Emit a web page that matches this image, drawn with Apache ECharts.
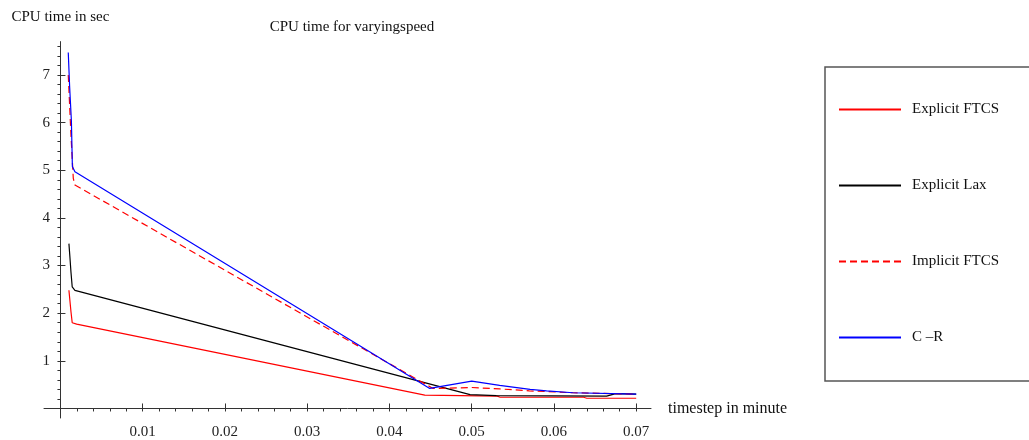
<!DOCTYPE html>
<html>
<head>
<meta charset="utf-8">
<script src="https://cdn.jsdelivr.net/npm/echarts@6/dist/echarts.min.js"></script>
<style>
  html, body { margin: 0; padding: 0; background: #fff; }
  #chart { width: 1029px; height: 440px; }
</style>
</head>
<body>
<div id="chart"></div>
<script>
// values (x = timestep in minute, y = CPU time in sec)
const ftcsX = [0.00103, 0.00128, 0.00143, 0.00197, 0.0443, 0.0531, 0.0534, 0.0636, 0.0640, 0.0700];
const ftcsY = [2.48, 2.03, 1.80, 1.77, 0.28, 0.26, 0.24, 0.235, 0.215, 0.215];

const laxX = [0.00103, 0.00115, 0.00128, 0.00143, 0.00176, 0.0498, 0.0530, 0.0664, 0.0675, 0.0700];
const laxY = [3.46, 3.18, 2.86, 2.55, 2.48, 0.29, 0.27, 0.26, 0.31, 0.30];

const implicitX = [0.00095, 0.00128, 0.00156, 0.00176, 0.0453, 0.0500, 0.0534, 0.0570, 0.0623, 0.0700];
const implicitY = [7.00, 5.73, 4.83, 4.69, 0.42, 0.44, 0.41, 0.37, 0.33, 0.30];

const crX = [0.00095, 0.00112, 0.00131, 0.00133, 0.00143, 0.00145, 0.00156, 0.00176, 0.0449, 0.0500, 0.0534, 0.0571, 0.0591, 0.0623, 0.0700];
const crY = [7.47, 6.74, 6.72, 6.04, 6.02, 5.08, 5.06, 4.97, 0.42, 0.575, 0.485, 0.40, 0.37, 0.33, 0.30];

const xMajorTicks = [0.01, 0.02, 0.03, 0.04, 0.05, 0.06, 0.07];
const yMajorTicks = [1, 2, 3, 4, 5, 6, 7];

// minor tick marks every 0.002 min / 0.2 sec
let xMinorTicks = [];
for (let i = 1; i <= 35; i++) xMinorTicks.push(+(i * 0.002).toFixed(4));
let yMinorTicks = [];
for (let i = 1; i <= 38; i++) yMinorTicks.push(+(i * 0.2).toFixed(2));

const serif = "Liberation Serif";

function pairs(xs, ys) {
    return xs.map((x, i) => [x, ys[i]]);
}

let chart = echarts.init(document.getElementById("chart"));

let baseX = {
    type: "value",
    min: -0.002,
    max: 0.0718,
    splitLine: { show: false },
    axisLine: { onZero: true, onZeroAxisIndex: 0, lineStyle: { color: "#333", width: 1 } }
};
let baseY = {
    type: "value",
    min: -0.2,
    max: 7.7,
    splitLine: { show: false },
    axisLine: { onZero: true, onZeroAxisIndex: 0, lineStyle: { color: "#333", width: 1 } }
};

chart.setOption({
    animation: false,
    backgroundColor: "#fff",
    title: {
        text: "CPU time for varyingspeed",
        left: 347,
        top: 15,
        textAlign: "center",
        textStyle: { fontFamily: serif, fontSize: 15, fontWeight: "normal", color: "#111" }
    },
    grid: { left: 44, right: 378, top: 41.6, bottom: 17.7, containLabel: false },
    legend: {
        orient: "vertical",
        left: 825,
        top: 67,
        padding: [35, 60, 36, 13],
        itemWidth: 62,
        itemHeight: 15,
        itemGap: 61,
        borderColor: "#555",
        borderWidth: 1.5,
        itemStyle: { color: "transparent", borderColor: "transparent", borderWidth: 0, opacity: 0 },
        textStyle: { fontFamily: serif, fontSize: 15, color: "#111", padding: [0, 0, 0, 6] },
        data: ["Explicit FTCS", "Explicit Lax", "Implicit FTCS", "C –R"]
    },
    xAxis: [
        Object.assign({}, baseX, {
            name: "timestep in minute",
            nameLocation: "end",
            nameGap: 17,
            nameTextStyle: { fontFamily: serif, fontSize: 16, color: "#111", align: "left", verticalAlign: "middle" },
            axisTick: { inside: true, length: 5, customValues: xMajorTicks, lineStyle: { color: "#333" } },
            axisLabel: { customValues: xMajorTicks, margin: 7, fontFamily: serif, fontSize: 15, color: "#222" }
        }),
        Object.assign({}, baseX, {
            axisLine: { show: false, onZero: true, onZeroAxisIndex: 0 },
            axisTick: { inside: true, length: 3, customValues: xMinorTicks, lineStyle: { color: "#333" } },
            axisLabel: { show: false }
        })
    ],
    yAxis: [
        Object.assign({}, baseY, {
            name: "CPU time in sec",
            nameLocation: "end",
            nameGap: 17,
            nameTextStyle: { fontFamily: serif, fontSize: 15, color: "#111", align: "center" },
            axisTick: { inside: true, length: 5, customValues: yMajorTicks, lineStyle: { color: "#333" } },
            axisLabel: { customValues: yMajorTicks, margin: -6, fontFamily: serif, fontSize: 15, color: "#222" }
        }),
        Object.assign({}, baseY, {
            axisLine: { show: false, onZero: true, onZeroAxisIndex: 0 },
            axisTick: { inside: true, length: 3, customValues: yMinorTicks, lineStyle: { color: "#333" } },
            axisLabel: { show: false }
        })
    ],
    series: [
        {
            name: "Explicit FTCS", type: "line", showSymbol: false, symbol: "none",
            itemStyle: { color: "#ff0000" },
            lineStyle: { color: "#ff0000", width: 1.2 },
            data: pairs(ftcsX, ftcsY)
        },
        {
            name: "Explicit Lax", type: "line", showSymbol: false, symbol: "none",
            itemStyle: { color: "#000000" },
            lineStyle: { color: "#000000", width: 1.2 },
            data: pairs(laxX, laxY)
        },
        {
            name: "Implicit FTCS", type: "line", showSymbol: false, symbol: "none",
            itemStyle: { color: "#ff0000" },
            lineStyle: { color: "#ff0000", width: 1.2, type: [7, 4] },
            data: pairs(implicitX, implicitY)
        },
        {
            name: "C –R", type: "line", showSymbol: false, symbol: "none",
            itemStyle: { color: "#0000ff" },
            lineStyle: { color: "#0000ff", width: 1.2 },
            data: pairs(crX, crY)
        }
    ]
});
</script>
</body>
</html>
